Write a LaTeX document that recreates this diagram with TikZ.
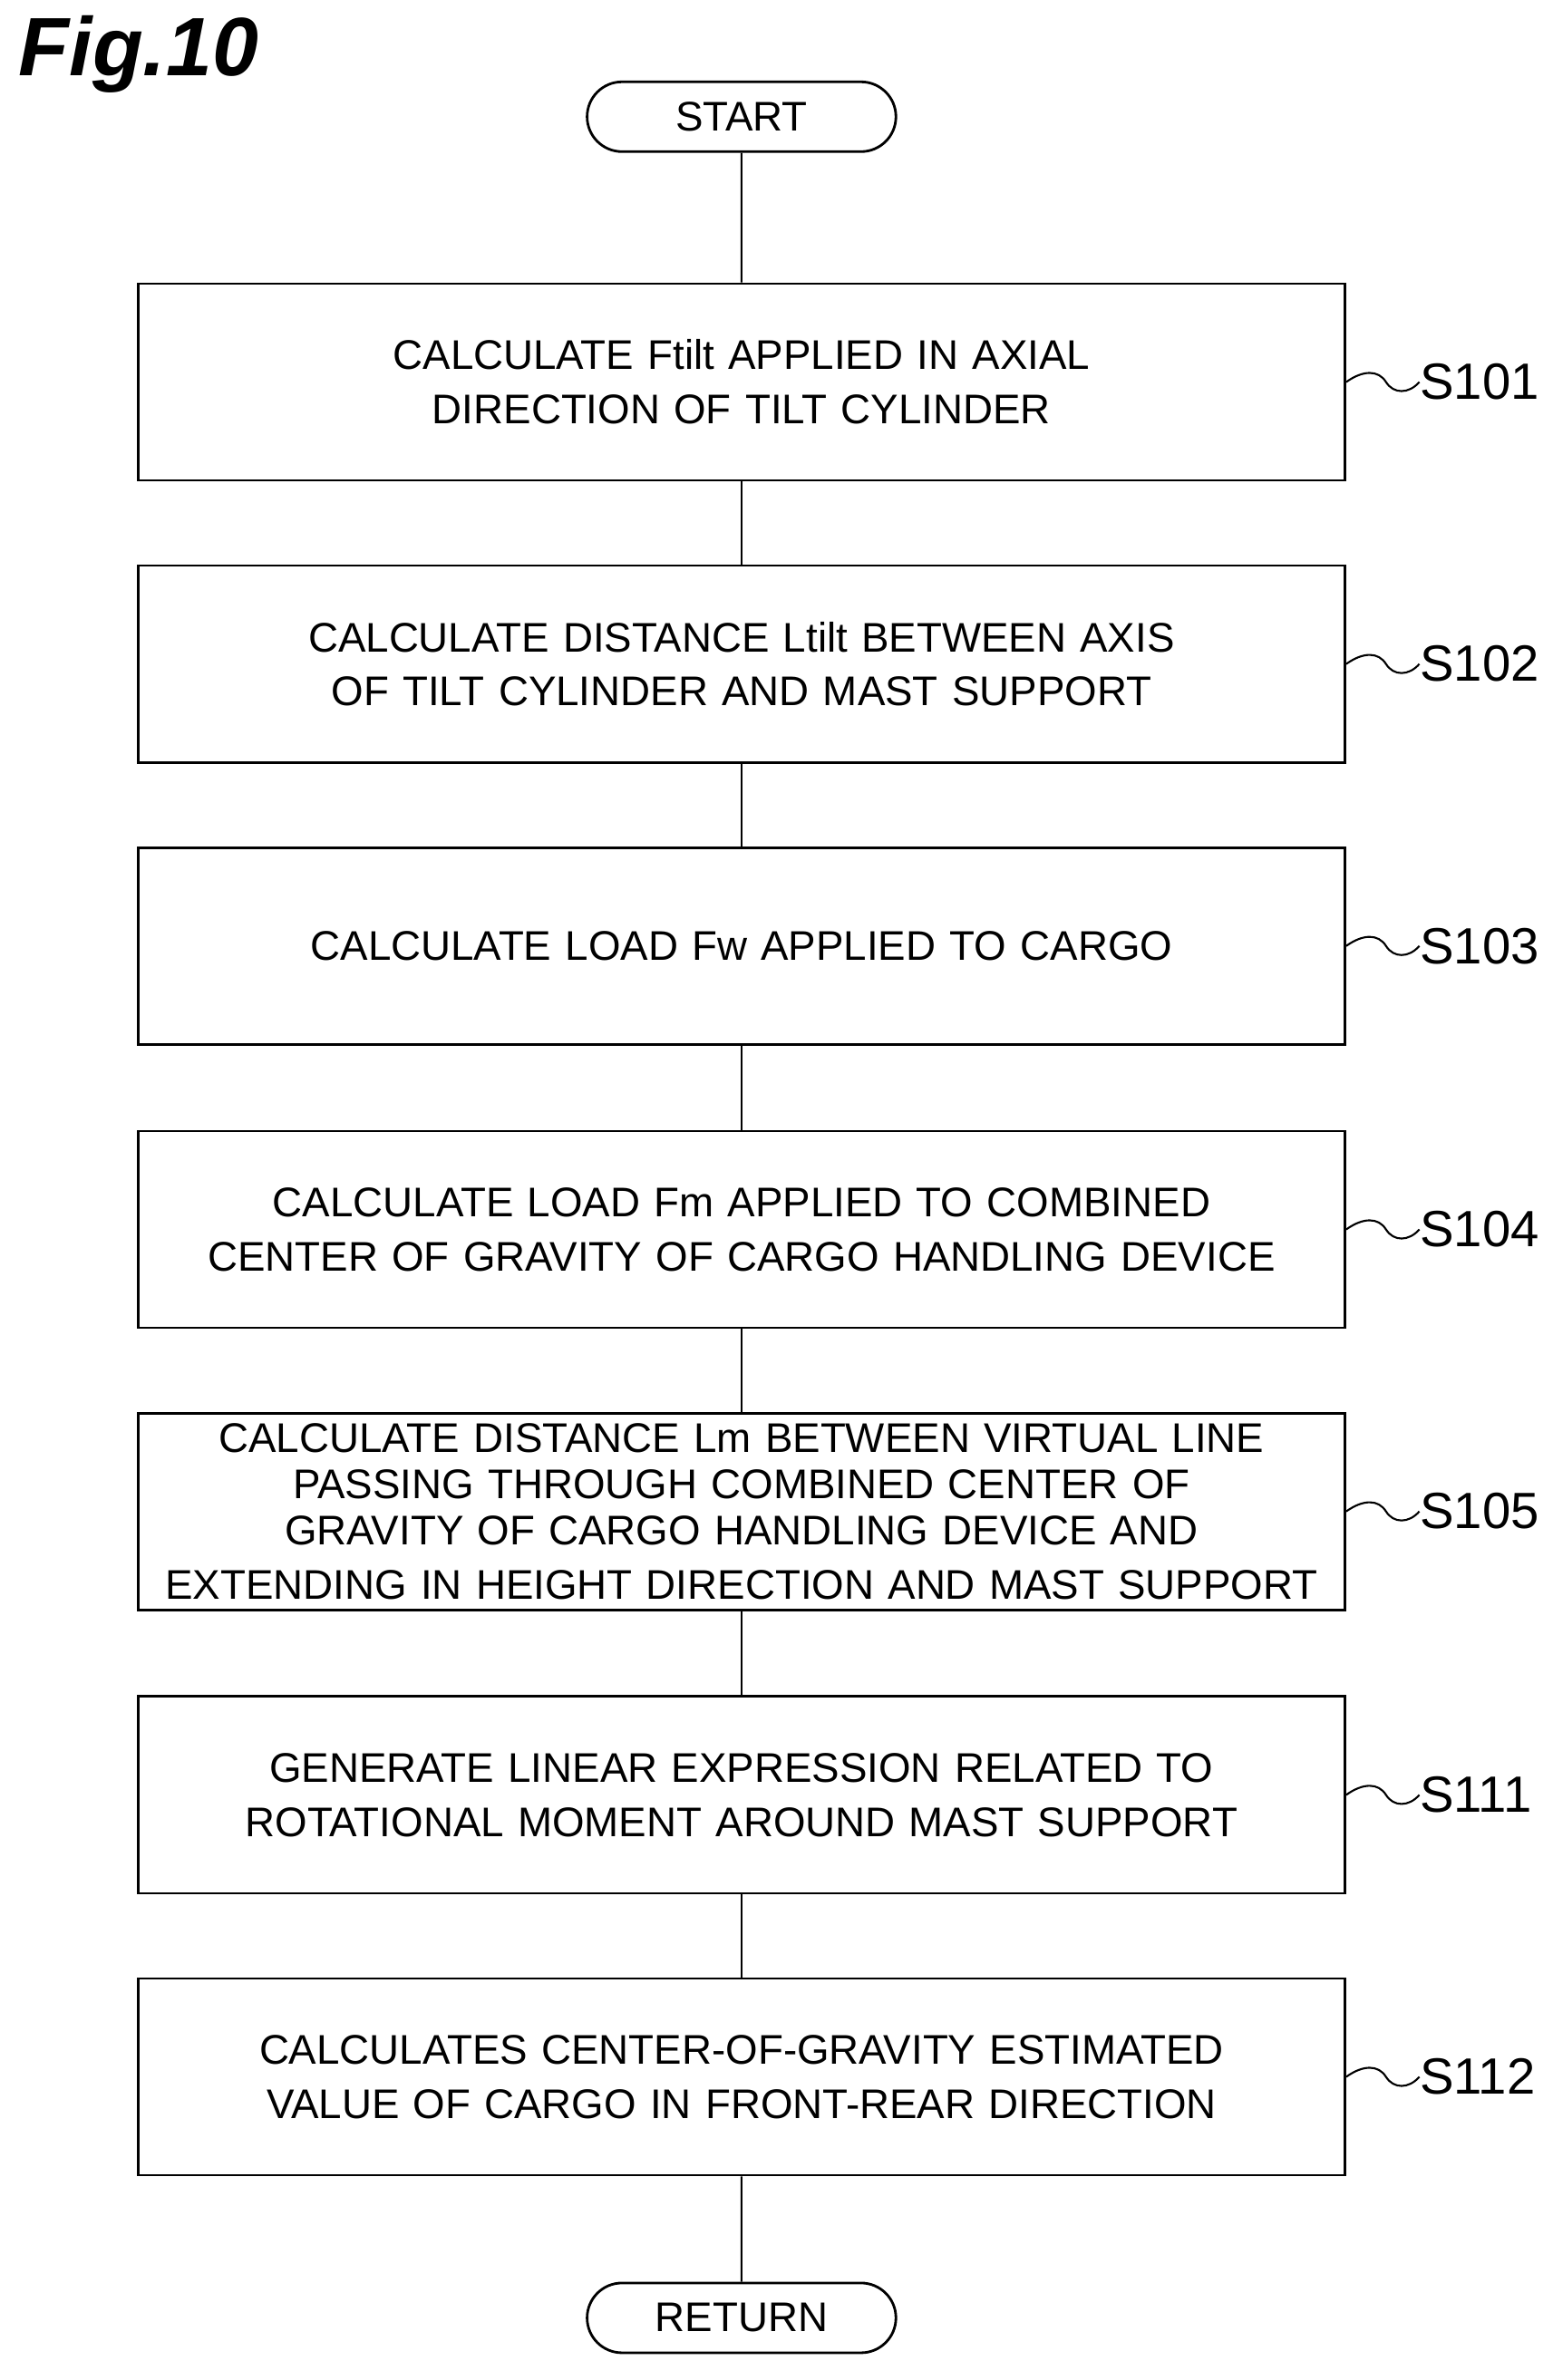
\documentclass[tikz,border=0pt]{standalone}
\usepackage{fontspec}
\setmainfont{Liberation Sans}
\usetikzlibrary{shapes.misc}
\tikzset{
  stepbox/.style={draw, line width=0.8pt, minimum width=13.31cm, minimum height=2.17cm,
    text width=13.2cm, align=center, font=\fontsize{13}{17}\selectfont, inner sep=0pt},
  term/.style={draw, line width=0.8pt, rounded rectangle, minimum width=3.64cm,
    minimum height=0.77cm, font=\fontsize{13}{16}\selectfont},
  tag/.style={anchor=west, font=\fontsize{16}{18}\selectfont, inner sep=0pt}
}
\begin{document}
\begin{tikzpicture}[x=0.01672cm, y=-0.01672cm]
  \useasboundingbox (0,0) rectangle (1024,1570);
  \node[anchor=north west, font=\bfseries\itshape\fontsize{26}{28}\selectfont, inner sep=0pt] (fig) at (12,10) {Fig.10};

  \node[term] (start) at (489,77) {START};

  \foreach \y/\s/\t in {
    252/S101/{CALCULATE Ftilt APPLIED IN AXIAL\\DIRECTION OF TILT CYLINDER},
    438/S102/{CALCULATE DISTANCE Ltilt BETWEEN AXIS\\OF TILT CYLINDER AND MAST SUPPORT},
    624/S103/{CALCULATE LOAD Fw APPLIED TO CARGO},
    811/S104/{CALCULATE LOAD Fm APPLIED TO COMBINED\\CENTER OF GRAVITY OF CARGO HANDLING DEVICE},
    997/S105/{\fontsize{13}{14.6}\selectfont CALCULATE DISTANCE Lm BETWEEN VIRTUAL LINE\\PASSING THROUGH COMBINED CENTER OF\\GRAVITY OF CARGO HANDLING DEVICE AND\\EXTENDING IN HEIGHT DIRECTION AND MAST SUPPORT},
    1184/S111/{GENERATE LINEAR EXPRESSION RELATED TO\\ROTATIONAL MOMENT AROUND MAST SUPPORT},
    1370/S112/{CALCULATES CENTER-OF-GRAVITY ESTIMATED\\VALUE OF CARGO IN FRONT-REAR DIRECTION}} {
    \node[stepbox] (\s) at (489,\y) {\t};
    \node[tag] (l\s) at (936,\y) {\s};
    \draw[line width=0.6pt] (\s.east) .. controls (899,\y-8) and (909,\y-8) .. (914,\y)
      .. controls (919,\y+8) and (929,\y+8) .. (l\s.west);
  }

  \node[term] (return) at (489,1529) {RETURN};

  \draw[line width=0.6pt] (start) -- (S101);
  \draw[line width=0.6pt] (S101) -- (S102);
  \draw[line width=0.6pt] (S102) -- (S103);
  \draw[line width=0.6pt] (S103) -- (S104);
  \draw[line width=0.6pt] (S104) -- (S105);
  \draw[line width=0.6pt] (S105) -- (S111);
  \draw[line width=0.6pt] (S111) -- (S112);
  \draw[line width=0.6pt] (S112) -- (return);
\end{tikzpicture}
\end{document}
